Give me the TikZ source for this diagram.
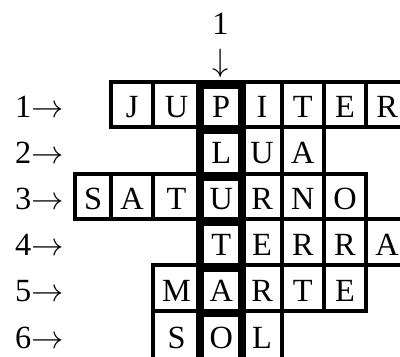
\documentclass[tikz,border=0pt]{standalone}
\usepackage{fix-cm}
\usepackage{fontspec}
\setmainfont{Liberation Serif}
\begin{document}
\begin{tikzpicture}[
  x=1cm,y=1cm,
  font=\fontsize{23}{27}\selectfont,
  cell/.style={draw=black,line width=.1cm,inner sep=0pt,
               text height=.66cm,text depth=0pt},
  keycell/.style={cell,line width=.2125cm,yshift=-.0625cm,text height=.535cm},
  rowlabel/.style={anchor=east,inner sep=0pt,text height=.66cm,text depth=0pt}
]
\useasboundingbox (0,0) rectangle (10,8.9);
\clip (0,0) rectangle (10,8.9);
% column centres and widths, key column = 3
\def\colx{{2.325,3.3025,4.414,5.53,6.5525,7.571,8.624,9.6775}}
\def\colw{{.915,1.04,1.1825,1.05,.995,1.0425,1.0625,1.045}}
\foreach \r/\y/\h/\cells in {
  1/6.29/1.125/{1/J,2/U,3/P,4/I,5/T,6/E,7/R},
  2/5.14/1.17/{3/L,4/U,5/A},
  3/3.99/1.13/{0/S,1/A,2/T,3/U,4/R,5/N,6/O},
  4/2.85/1.16/{3/T,4/E,5/R,6/R,7/A},
  5/1.70/1.13/{2/M,3/A,4/R,5/T,6/E},
  6/0.53/1.21/{2/S,3/O,4/L}}{
  \node[rowlabel] (lab\r) at (1.6,\y) {\r$\rightarrow$};
  \foreach \c/\l in \cells{
    \pgfmathsetmacro\cx{\colx[\c]}
    \pgfmathsetmacro\cw{\colw[\c]}
    \ifnum\c=3
      \node[keycell,minimum width=\cw cm,minimum height=\h cm] (r\r-c\c) at (\cx,\y) {\l};
    \else
      \node[cell,minimum width=\cw cm,minimum height=\h cm] (r\r-c\c) at (\cx,\y) {\l};
    \fi
  }
}
\node[anchor=base] (keynum) at (5.5125,8.0425) {1};
\node[anchor=base] (keyarrow) at (5.5125,7.1) {$\downarrow$};
\end{tikzpicture}
\end{document}
